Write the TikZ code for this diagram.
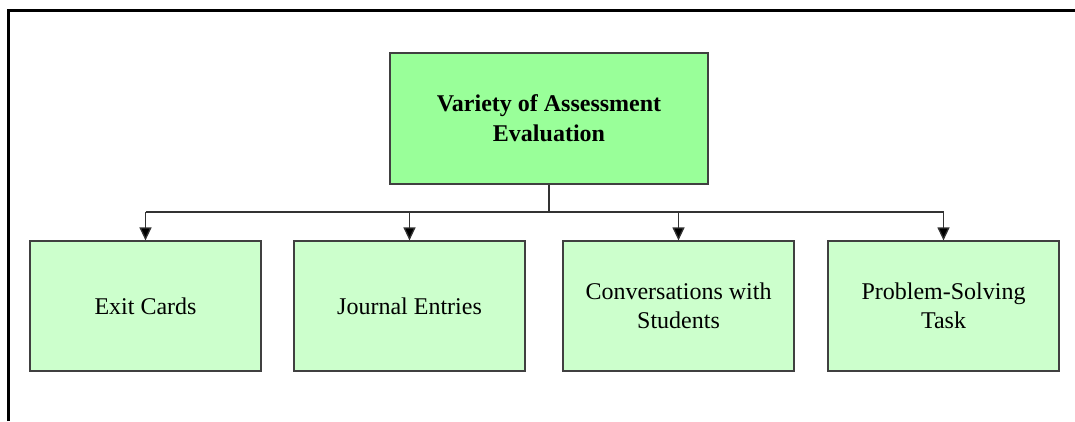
\documentclass[tikz,border=0pt]{standalone}
\usepackage{fontspec}
\setmainfont{Liberation Serif}
\usetikzlibrary{arrows.meta}
\begin{document}
\begin{tikzpicture}[x=1pt,y=-1pt,
  topbox/.style={draw=black!75,line width=1.2pt,fill={rgb,255:red,153;green,255;blue,153},minimum width=318pt,minimum height=131pt,align=center,inner sep=0pt,font=\fontsize{24}{30}\selectfont\bfseries},
  childbox/.style={draw=black!75,line width=1.2pt,fill={rgb,255:red,204;green,255;blue,204},minimum width=231pt,minimum height=130pt,align=center,inner sep=0pt,font=\fontsize{24}{29}\selectfont},
  conn/.style={draw=black!80,line width=1.3pt},
  arr/.style={conn,-{Triangle[width=12pt,length=13pt,fill=black]}}]
\useasboundingbox (0,0) rectangle (1075,421);
\draw[line width=2.2pt] (8.5,421) -- (8.5,10.5) -- (1076,10.5);
\node[topbox] (top) at (549,118.5) {Variety of Assessment\\Evaluation};
\node[childbox] (c1) at (145.5,306) {Exit Cards};
\node[childbox] (c2) at (409.5,306) {Journal Entries};
\node[childbox] (c3) at (678.5,306) {Conversations with\\Students};
\node[childbox] (c4) at (943.5,306) {Problem-Solving\\Task};
\coordinate (j) at (549,212);
\draw[conn] (top.south) -- (j);
\draw[conn] (c1.north |- j) -- (c4.north |- j);
\foreach \c in {c1,c2,c3,c4}{
  \draw[arr] (\c.north |- j) -- (\c.north);
}
\end{tikzpicture}
\end{document}
